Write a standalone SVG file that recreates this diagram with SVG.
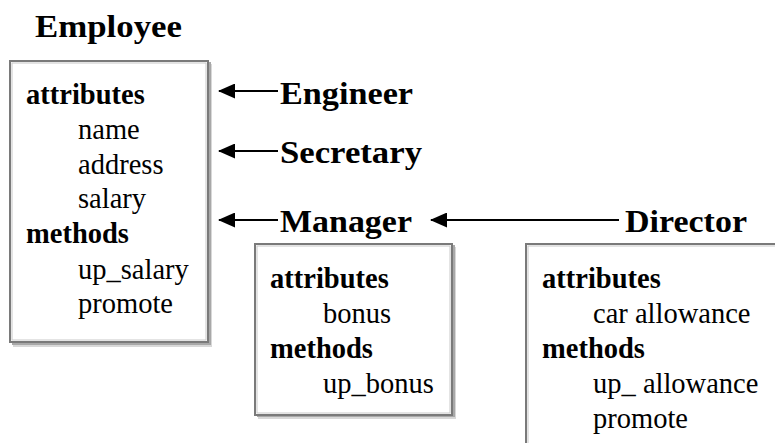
<svg xmlns="http://www.w3.org/2000/svg" width="775" height="443" viewBox="0 0 775 443">
<defs>
<style>
.title{font-weight:bold;font-size:31px;fill:#000}
.head{font-weight:bold;font-size:28.5px;fill:#000}
.item{font-weight:normal;font-size:28.5px;fill:#000}
.box{fill:#fff;stroke:#7a7a7a;stroke-width:2}
.inner{fill:none;stroke:#c8c8c8;stroke-width:1}
.shadow1{fill:none;stroke:#a8a8a8;stroke-width:2}
.shadow2{fill:none;stroke:#d8d8d8;stroke-width:2}
.conn{stroke:#000;stroke-width:2;fill:none}
</style>
<marker id="arr" viewBox="0 0 17 15" refX="1" refY="7.5" markerWidth="17" markerHeight="15" markerUnits="userSpaceOnUse" orient="auto">
<path d="M0,7.5 L17,0 L17,15 Z" fill="#000"/>
</marker>
</defs>
<rect width="775" height="443" fill="#fff"/>

<g id="employee" font-family="Liberation Serif, DejaVu Serif, serif">
<text class="title" x="35" y="37" textLength="147" lengthAdjust="spacingAndGlyphs">Employee</text>
<path class="shadow2" d="M13,346 H211 V64"/>
<path class="shadow1" d="M12,344 H210 V62"/>
<rect class="box" x="10" y="61" width="198" height="281"/>
<rect class="inner" x="12" y="63" width="194" height="277"/>
<text class="head" x="26" y="104">attributes</text>
<text class="item" x="78" y="139">name</text>
<text class="item" x="78" y="174">address</text>
<text class="item" x="78" y="208">salary</text>
<text class="head" x="26" y="243">methods</text>
<text class="item" x="78" y="279">up_salary</text>
<text class="item" x="78" y="313">promote</text>
</g>

<g id="engineer" font-family="Liberation Serif, DejaVu Serif, serif">
<text class="title" x="280" y="104" textLength="133" lengthAdjust="spacingAndGlyphs">Engineer</text>
</g>

<g id="secretary" font-family="Liberation Serif, DejaVu Serif, serif">
<text class="title" x="280" y="163" textLength="142" lengthAdjust="spacingAndGlyphs">Secretary</text>
</g>

<g id="manager" font-family="Liberation Serif, DejaVu Serif, serif">
<text class="title" x="280" y="232" textLength="132" lengthAdjust="spacingAndGlyphs">Manager</text>
<path class="shadow2" d="M258,418 H455 V247"/>
<path class="shadow1" d="M257,416 H454 V245"/>
<rect class="box" x="255" y="244" width="197" height="171"/>
<rect class="inner" x="257" y="246" width="193" height="167"/>
<text class="head" x="270" y="288">attributes</text>
<text class="item" x="323" y="323">bonus</text>
<text class="head" x="270" y="358">methods</text>
<text class="item" x="323" y="393">up_bonus</text>
</g>

<g id="director" font-family="Liberation Serif, DejaVu Serif, serif">
<text class="title" x="625" y="232" textLength="122" lengthAdjust="spacingAndGlyphs">Director</text>
<rect class="box" x="526" y="244" width="260" height="210"/>
<rect class="inner" x="528" y="246" width="256" height="206"/>
<text class="head" x="542" y="288">attributes</text>
<text class="item" x="593" y="323">car allowance</text>
<text class="head" x="542" y="358">methods</text>
<text class="item" x="593" y="393">up_ allowance</text>
<text class="item" x="593" y="428">promote</text>
</g>

<g id="connectors">
<line class="conn" x1="219" y1="91" x2="278" y2="91" marker-start="url(#arr)"/>
<line class="conn" x1="219" y1="151" x2="278" y2="151" marker-start="url(#arr)"/>
<line class="conn" x1="219" y1="220" x2="278" y2="220" marker-start="url(#arr)"/>
<line class="conn" x1="431" y1="220" x2="619" y2="220" marker-start="url(#arr)"/>
</g>
</svg>
